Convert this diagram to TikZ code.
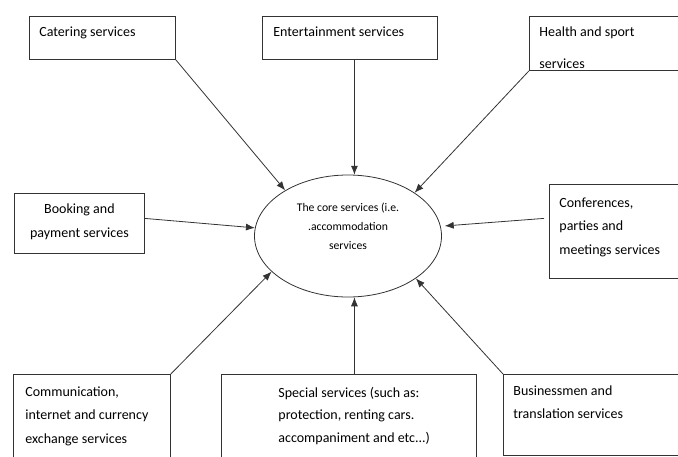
\documentclass[tikz,border=0pt]{standalone}
\usepackage{fontspec}
\setmainfont{Carlito}
\usetikzlibrary{shapes.geometric}
\usetikzlibrary{arrows.meta}

% box text: height, width, first baseline, lines
\newcommand{\boxtext}[4]{\parbox[t][#1][t]{#2}{\raggedright\rule{0pt}{#3}#4}}

\tikzset{
  svc/.style={draw=black!80, line width=0.8pt, anchor=north west, inner ysep=0pt,
    font=\fontsize{14}{23.5}\selectfont},
  core/.style={draw=black!80, line width=0.8pt, ellipse, minimum width=187pt,
    minimum height=122pt, inner sep=0pt, font=\fontsize{11.7}{19}\selectfont},
  arr/.style={-{Latex[length=9pt,width=7pt]}, line width=0.8pt, black!80},
}

\begin{document}
\begin{tikzpicture}[x=1pt,y=-1pt]
        \useasboundingbox (0,0) rectangle (678,456);
        \clip (0,0) rectangle (678,456);
        % the core
        \node[core] (core) at (348,236)
          {\parbox[c][72pt][t]{120pt}{\centering\rule{0pt}{11.7pt}The core services (i.e.\\ .accommodation\\ services}};
        % top row
        \node[svc, inner xsep=10pt] (cat) at (29,16) {\boxtext{43pt}{126pt}{20.5pt}{Catering services}};
        \node[svc, inner xsep=11pt] (ent) at (262,16) {\boxtext{43pt}{153pt}{20.5pt}{Entertainment services}};
        \node[svc, inner xsep=10pt, font=\fontsize{14}{31.5}\selectfont] (hea) at (529,16)
          {\boxtext{54pt}{170pt}{20.5pt}{Health and sport\\ services}};
        % middle row
        \node[svc, inner xsep=0pt] (book) at (14,193)
          {\parbox[t][60pt][t]{130pt}{\centering\rule{0pt}{20.3pt}Booking and\\ payment services}};
        \node[svc, inner xsep=10pt] (conf) at (549,184)
          {\boxtext{94pt}{130pt}{22.7pt}{Conferences,\\ parties and\\ meetings services}};
        % bottom row
        \node[svc, inner xsep=12pt] (comm) at (13,374)
          {\boxtext{100pt}{133pt}{22pt}{Communication,\\ internet and currency\\ exchange services}};
        \node[svc, inner xsep=0pt, font=\fontsize{14}{22.5}\selectfont] (spec) at (221,374)
          {\boxtext{100pt}{255pt}{22.7pt}{\leftskip=57pt Special services (such as:\\ protection, renting cars.\\ accompaniment and etc...)}};
        \node[svc, inner xsep=10pt] (bus) at (503,374)
          {\boxtext{81pt}{170pt}{21pt}{Businessmen and\\ translation services}};
        % arrows to the core
        \draw[arr] (cat.south east) -- (core.144);
        \draw[arr] (ent.south -| core.84) -- (core.84);
        \draw[arr] (hea.south west) -- (core.33);
        \draw[arr] ([yshift=5pt]book.east) -- (core.175);
        \draw[arr, shorten >=4pt] ([shift={(-5pt,13pt)}]conf.west) -- (core.6);
        \draw[arr] (comm.north east) -- (core.205);
        \draw[arr] (spec.north -| core.-84) -- (core.-84);
        \draw[arr] (bus.north west) -- (core.-32);
      \end{tikzpicture}
\end{document}
